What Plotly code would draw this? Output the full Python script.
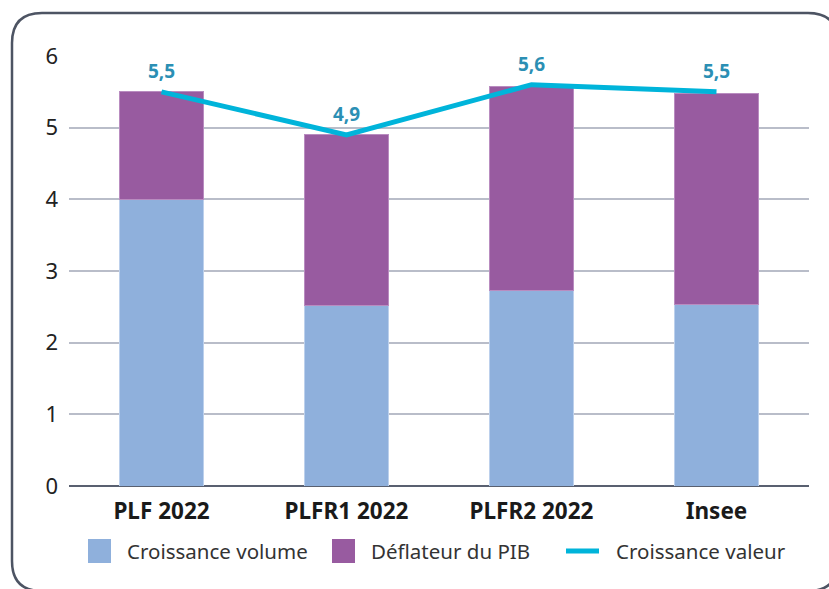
import plotly.graph_objects as go

categories = ["PLF 2022", "PLFR1 2022", "PLFR2 2022", "Insee"]
croissance_volume = [4.0, 2.52, 2.73, 2.53]
deflateur_pib = [1.5, 2.38, 2.85, 2.94]
croissance_valeur = [5.5, 4.9, 5.6, 5.5]
valeur_labels = ["5,5", "4,9", "5,6", "5,5"]
series_names = ["Croissance volume", "Déflateur du PIB", "Croissance valeur"]
y_ticks = [0, 1, 2, 3, 4, 5, 6]

W, H = 829, 589
ML, MR, MT, MB = 69, 20, 56, 103
PW, PH = W - ML - MR, H - MT - MB

def px(x):
    return (x - ML) / PW

def py(y):
    return (H - MB - y) / PH

C_VOL = "#8fb0dc"
C_DEF = "#985ba0"
C_VAL = "#00b4da"
C_LBL = "#2b8fb4"
FONT = "Noto Sans"

fig = go.Figure()
fig.add_trace(go.Bar(x=categories, y=croissance_volume, name=series_names[0],
                     marker=dict(color=C_VOL, line=dict(color="#bcd0ec", width=1))))
fig.add_trace(go.Bar(x=categories, y=deflateur_pib, name=series_names[1],
                     marker=dict(color=C_DEF, line=dict(color="#b98cc0", width=1))))
fig.add_trace(go.Scatter(x=categories, y=croissance_valeur, name=series_names[2],
                         mode="lines", line=dict(color=C_VAL, width=5), cliponaxis=False))

annotations = []
for c, v, t in zip(categories, croissance_valeur, valeur_labels):
    annotations.append(dict(x=c, y=v, text=t, showarrow=False, yshift=21,
                            xanchor="center", yanchor="middle",
                            font=dict(family=FONT, size=19, color=C_LBL, weight="bold")))

# frame (rounded rectangle)
x0, y0, x1, y1, r = 12, 13, 838, 591, 30
path = (f"M {px(x0+r)},{py(y0)} L {px(x1-r)},{py(y0)} Q {px(x1)},{py(y0)} {px(x1)},{py(y0+r)} "
        f"L {px(x1)},{py(y1-r)} Q {px(x1)},{py(y1)} {px(x1-r)},{py(y1)} "
        f"L {px(x0+r)},{py(y1)} Q {px(x0)},{py(y1)} {px(x0)},{py(y1-r)} "
        f"L {px(x0)},{py(y0+r)} Q {px(x0)},{py(y0)} {px(x0+r)},{py(y0)} Z")
shapes = [dict(type="path", xref="paper", yref="paper", path=path,
               line=dict(color="#4d5463", width=2.5), layer="below")]

# custom legend
ly = 551
shapes.append(dict(type="rect", xref="paper", yref="paper", x0=px(88), x1=px(111),
                   y0=py(ly - 12), y1=py(ly + 12), fillcolor=C_VOL, line=dict(width=0)))
shapes.append(dict(type="rect", xref="paper", yref="paper", x0=px(332), x1=px(355),
                   y0=py(ly - 12), y1=py(ly + 12), fillcolor=C_DEF, line=dict(width=0)))
shapes.append(dict(type="line", xref="paper", yref="paper", x0=px(566), x1=px(599),
                   y0=py(ly), y1=py(ly), line=dict(color=C_VAL, width=5)))
for xpos, name in zip([125, 369, 614], series_names):
    annotations.append(dict(xref="paper", yref="paper", x=px(xpos), y=py(ly),
                            xanchor="left", yanchor="middle", showarrow=False,
                            text=name, font=dict(family=FONT, size=20.5, color="#333333")))

fig.update_layout(
    width=W, height=H, autosize=False,
    margin=dict(l=ML, r=MR, t=MT, b=MB),
    barmode="stack", bargap=0.545,
    plot_bgcolor="white", paper_bgcolor="white",
    showlegend=False,
    font=dict(family=FONT, color="#222222"),
    shapes=shapes, annotations=annotations,
    xaxis=dict(showgrid=False, tickfont=dict(family=FONT, size=22.5, color="#1a1a1a", weight="bold"),
               ticks="", showline=False, ticklabelstandoff=9),
    yaxis=dict(range=[0, 6], tickvals=y_ticks, showgrid=True, gridcolor="#b9bdc9", gridwidth=1.5,
               zeroline=True, zerolinecolor="#596070", zerolinewidth=2,
               tickfont=dict(family=FONT, size=22, color="#222222"), ticks="",
               ticklabelstandoff=10),
)

fig.write_html("out.html", config={"displayModeBar": False},
               post_script="document.body.style.margin='0';document.body.style.overflow='hidden';")
